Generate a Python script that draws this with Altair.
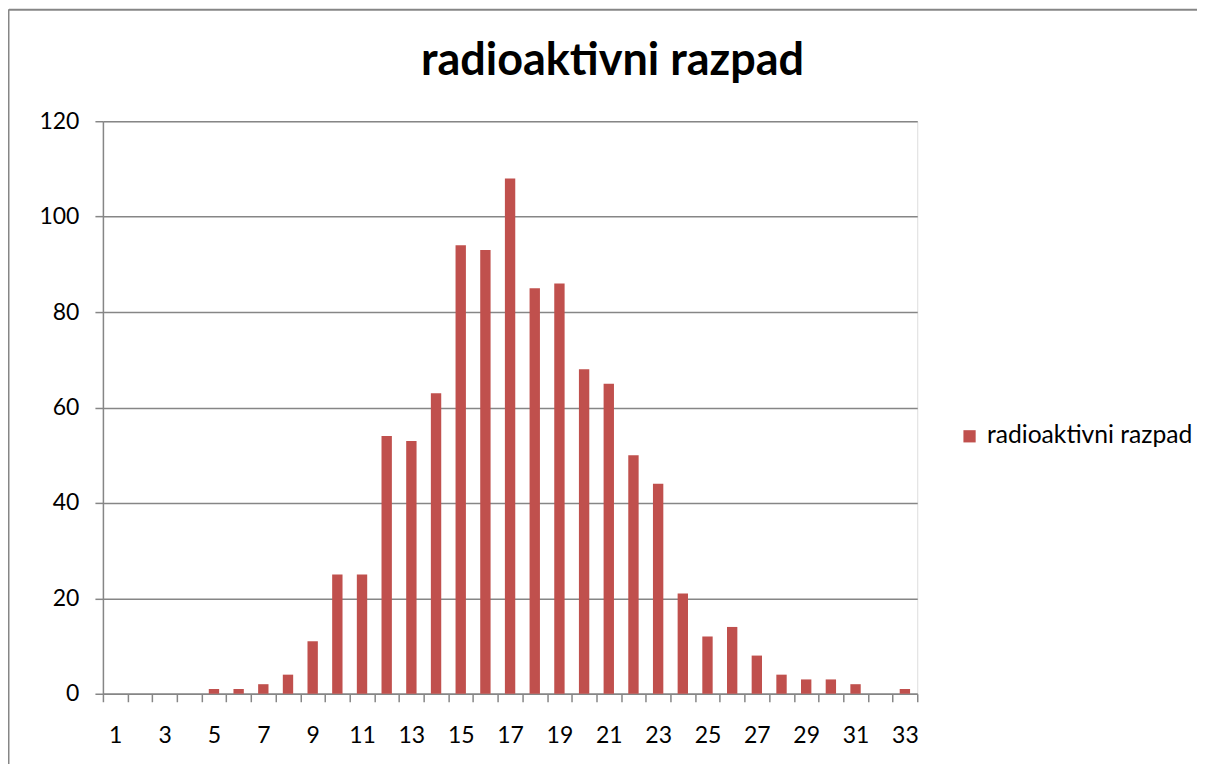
import altair as alt
import pandas as pd

categories = list(range(1, 34))
values = [0, 0, 0, 0, 1, 1, 2, 4, 11, 25, 25, 54, 53, 63, 94, 93, 108, 85, 86, 68, 65, 50, 44, 21, 12, 14, 8, 4, 3, 3, 2, 0, 1]
series_name = "radioaktivni razpad"
title_text = "radioaktivni razpad"

df = pd.DataFrame({"kategorija": categories, "vrednost": values, "serija": [series_name] * len(categories)})

FONT = "Lato"
GRAY = "#868686"

bars = alt.Chart(df).mark_bar(color="#C0504D", width=alt.RelativeBandSize(0.42)).encode(
    x=alt.X("kategorija:O",
            scale=alt.Scale(paddingInner=0, paddingOuter=0),
            axis=alt.Axis(title=None, labelAngle=0, tickBand="extent",
                          labelExpr="datum.value % 2 === 1 ? datum.label : ''",
                          domainColor=GRAY, tickColor=GRAY, tickSize=8, tickWidth=1.5,
                          domainWidth=1.5, labelFontSize=23, labelFont=FONT,
                          labelColor="black", labelPadding=23)),
    y=alt.Y("vrednost:Q",
            scale=alt.Scale(domain=[0, 120]),
            axis=alt.Axis(title=None, values=[0, 20, 40, 60, 80, 100, 120],
                          grid=True, gridColor=GRAY, gridWidth=1.5,
                          domainColor=GRAY, tickColor=GRAY, tickSize=8, tickWidth=1.5,
                          domainWidth=1.5, labelFontSize=23, labelFont=FONT,
                          labelColor="black", labelPadding=16)),
    color=alt.Color("serija:N",
                    scale=alt.Scale(domain=[series_name], range=["#C0504D"]),
                    legend=alt.Legend(title=None, orient="none", legendX=855, legendY=303,
                                      symbolType="square", symbolSize=150,
                                      symbolStrokeWidth=0, labelFontSize=24.7,
                                      labelFont=FONT, labelColor="black", labelOffset=5,
                                      labelLimit=0)),
)

single = alt.Chart(alt.Data(values=[{"t": title_text}]))
title_mark = single.mark_text(fontSize=45, font=FONT, fontWeight="bold", color="black",
                              align="center", baseline="alphabetic").encode(
    text="t:N", x=alt.value(510), y=alt.value(-46))
top_line = single.mark_rule(color=GRAY, strokeWidth=2).encode(
    x=alt.value(-94), x2=alt.value(1110), y=alt.value(-111.5))
left_line = single.mark_rule(color=GRAY, strokeWidth=2).encode(
    x=alt.value(-94.5), y=alt.value(-112), y2=alt.value(660))

chart = alt.layer(bars, title_mark, top_line, left_line).properties(
    width=815, height=573,
    autosize=alt.AutoSizeParams(type="none"),
    padding={"left": 95, "top": 113, "right": 280, "bottom": 70},
).configure_view(stroke=None).configure(background="white")

chart.save("out.html", embed_options={"renderer": "svg", "actions": False})
